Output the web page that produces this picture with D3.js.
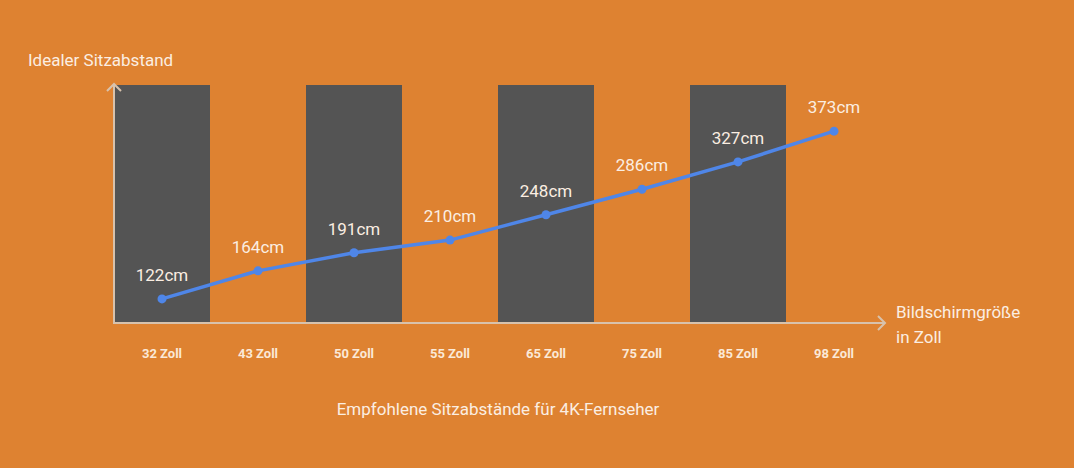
<!DOCTYPE html>
<html><head><meta charset="utf-8">
<script src="https://cdn.jsdelivr.net/npm/d3@7"></script>
<style>body{margin:0;background:#DE8231;}svg{display:block;font-family:Roboto,sans-serif;}</style>
</head><body><svg id="c" width="1074" height="468"></svg>
<script>
const categories = ["32 Zoll","43 Zoll","50 Zoll","55 Zoll","65 Zoll","75 Zoll","85 Zoll","98 Zoll"];
const distances = [122,164,191,210,248,286,327,373];
const shadedBands = [true,false,true,false,true,false,true,false];
const valueLabels = distances.map(d => d + "cm");

const svg = d3.select("#c");
svg.append("rect").attr("width",1074).attr("height",468).attr("fill","#DE8231");
const x = d3.scaleBand().domain(categories).range([114,882]).padding(0);
const y = d3.scaleLinear().domain([86,442]).range([323,85]);

svg.selectAll(".band").data(categories.filter((c,i)=>shadedBands[i])).enter().append("rect")
  .attr("x",d=>x(d)).attr("width",x.bandwidth()).attr("y",y(442)).attr("height",y(86)-y(442)).attr("fill","#545454");

const axc="#d8c2ac";
svg.append("line").attr("x1",114).attr("x2",114).attr("y1",324).attr("y2",84).attr("stroke",axc).attr("stroke-width",2);
svg.append("path").attr("d","M107,91 L114,84 L121,91").attr("fill","none").attr("stroke",axc).attr("stroke-width",2);
svg.append("line").attr("x1",113).attr("x2",885).attr("y1",323).attr("y2",323).attr("stroke",axc).attr("stroke-width",2);
svg.append("path").attr("d","M878,316 L885,323 L878,330").attr("fill","none").attr("stroke",axc).attr("stroke-width",2);

const line = d3.line().x((d,i)=>x(categories[i])+x.bandwidth()/2).y(d=>y(d));
svg.append("path").datum(distances).attr("d",line).attr("fill","none").attr("stroke","#4F86E8").attr("stroke-width",3.5);
svg.selectAll(".pt").data(distances).enter().append("circle")
  .attr("cx",(d,i)=>x(categories[i])+x.bandwidth()/2).attr("cy",d=>y(d)).attr("r",4.5).attr("fill","#4F86E8");
svg.selectAll(".vl").data(distances).enter().append("text")
  .attr("x",(d,i)=>x(categories[i])+x.bandwidth()/2).attr("y",d=>y(d)-18)
  .attr("text-anchor","middle").attr("fill","#fbeee2").attr("font-size",17).text((d,i)=>valueLabels[i]);
svg.selectAll(".tk").data(categories).enter().append("text")
  .attr("x",d=>x(d)+x.bandwidth()/2).attr("y",358).attr("text-anchor","middle")
  .attr("fill","#fbe9d7").attr("font-size",13).attr("font-weight","bold").text(d=>d);

const tc="#fbeee2";
svg.append("text").attr("x",28).attr("y",66).attr("fill",tc).attr("font-size",17).text("Idealer Sitzabstand");
svg.append("text").attr("x",896).attr("y",318).attr("fill",tc).attr("font-size",17).text("Bildschirmgröße");
svg.append("text").attr("x",896).attr("y",343).attr("fill",tc).attr("font-size",17).text("in Zoll");
svg.append("text").attr("x",498).attr("y",415).attr("text-anchor","middle").attr("fill",tc).attr("font-size",17).text("Empfohlene Sitzabstände für 4K-Fernseher");
</script></body></html>
